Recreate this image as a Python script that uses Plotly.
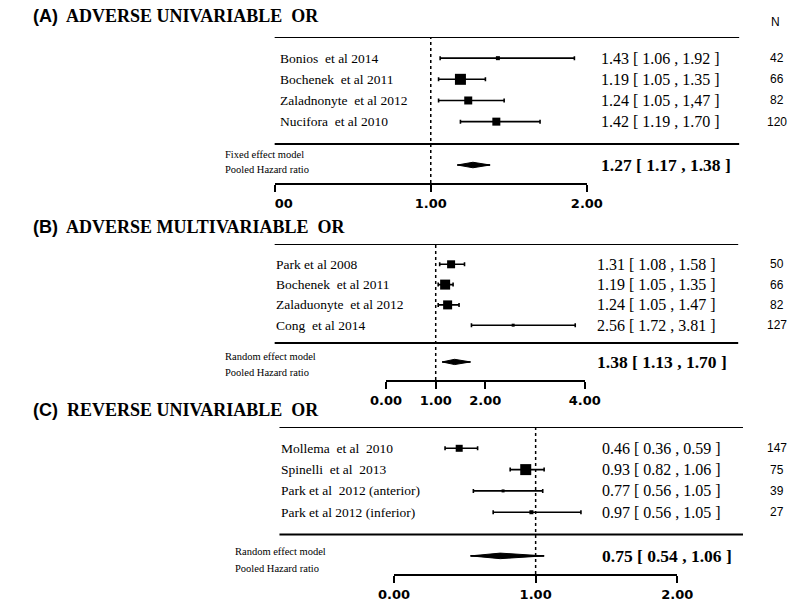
import plotly.graph_objects as go

# ---------------- data ----------------
A_studies = ["Bonios\u00a0 et al 2014", "Bochenek\u00a0 et al 2011", "Zaladnonyte\u00a0 et al 2012", "Nucifora\u00a0 et al 2010"]
A_or = [1.43, 1.19, 1.24, 1.42]
A_lo = [1.06, 1.05, 1.05, 1.19]
A_hi = [1.92, 1.35, 1.47, 1.70]
A_text = ["1.43 [ 1.06 , 1.92 ]", "1.19 [ 1.05 , 1.35 ]", "1.24 [ 1.05 , 1,47 ]", "1.42 [ 1.19 , 1.70 ]"]
A_n = [42, 66, 82, 120]
A_pool = [1.27, 1.17, 1.38]
A_pool_text = "1.27 [ 1.17 , 1.38 ]"
A_ticks = [0, 1, 2]
A_ticktext = ["\u00a0\u00a0\u00a0\u00a000", "1.00", "2.00"]

B_studies = ["Park et al 2008", "Bochenek\u00a0 et al 2011", "Zaladuonyte\u00a0 et al 2012", "Cong\u00a0 et al 2014"]
B_or = [1.31, 1.19, 1.24, 2.56]
B_lo = [1.08, 1.05, 1.05, 1.72]
B_hi = [1.58, 1.35, 1.47, 3.81]
B_text = ["1.31 [ 1.08 , 1.58 ]", "1.19 [ 1.05 , 1.35 ]", "1.24 [ 1.05 , 1.47 ]", "2.56 [ 1.72 , 3.81 ]"]
B_n = [50, 66, 82, 127]
B_pool = [1.38, 1.13, 1.70]
B_pool_text = "1.38 [ 1.13 , 1.70 ]"
B_ticks = [0, 1, 2, 4]
B_ticktext = ["0.00", "1.00", "2.00", "4.00"]

C_studies = ["Mollema\u00a0 et al\u00a0 2010", "Spinelli\u00a0 et al\u00a0 2013", "Park et al\u00a0 2012 (anterior)", "Park et al 2012 (inferior)"]
C_or = [0.46, 0.93, 0.77, 0.97]
C_lo = [0.36, 0.82, 0.56, 0.70]
C_hi = [0.59, 1.06, 1.05, 1.32]
C_text = ["0.46 [ 0.36 , 0.59 ]", "0.93 [ 0.82 , 1.06 ]", "0.77 [ 0.56 , 1.05 ]", "0.97 [ 0.56 , 1.05 ]"]
C_n = [147, 75, 39, 27]
C_pool = [0.75, 0.54, 1.06]
C_pool_text = "0.75 [ 0.54 , 1.06 ]"
C_ticks = [0, 1, 2]
C_ticktext = ["0.00", "1.00", "2.00"]

titles = ["(A)", "(B)", "(C)"]
title_words = ["ADVERSE UNIVARIABLE\u00a0 OR", "ADVERSE MULTIVARIABLE\u00a0 OR", "REVERSE UNIVARIABLE\u00a0 OR"]
model_names = ["Fixed effect model", "Random effect model", "Random effect model"]
pooled_name = "Pooled Hazard ratio"

# ---------------- layout / style ----------------
W, H = 804, 605
def px(x): return x / W
def py(y): return 1 - y / H

SERIF = "Liberation Serif, Times New Roman, serif"
SANS = "Liberation Sans, Arial, sans-serif"
TICKF = "DejaVu Sans, Verdana, sans-serif"

panels = [
    dict(studies=A_studies, orr=A_or, lo=A_lo, hi=A_hi, text=A_text, n=A_n, pool=A_pool, ptext=A_pool_text,
         ticks=A_ticks, ticktext=A_ticktext, xr=[0, 2], xdom=[268, 594], ydom=[37, 183], yr=6.9,
         sizes=[4, 11, 8, 8], sep=5.06, prow=6.05, line_x=[268, 753], lab_x=271, val_x=607,
         title_y=16, model_y=[5.57, 6.27], model_x=214),
    dict(studies=B_studies, orr=B_or, lo=B_lo, hi=B_hi, text=B_text, n=B_n, pool=B_pool, ptext=B_pool_text,
         ticks=B_ticks, ticktext=B_ticktext, xr=[0, 4], xdom=[384.3, 591.7], ydom=[244, 380], yr=6.7,
         sizes=[8, 10, 9, 3], sep=4.88, prow=5.81, line_x=[268, 752], lab_x=267, val_x=602,
         title_y=227, model_y=[5.52, 6.35], model_x=214),
    dict(studies=C_studies, orr=C_or, lo=C_lo, hi=C_hi, text=C_text, n=C_n, pool=C_pool, ptext=C_pool_text,
         ticks=C_ticks, ticktext=C_ticktext, xr=[0, 2], xdom=[392.7, 688.3], ydom=[427, 574], yr=6.9,
         sizes=[7, 11, 3, 4], sep=5.05, prow=6.05, line_x=[273, 757], lab_x=273, val_x=608,
         title_y=410, model_y=[5.85, 6.62], model_x=224),
]

fig = go.Figure()
annotations = []
shapes = []
layout_axes = {}

for i, p in enumerate(panels):
    k = "" if i == 0 else str(i + 1)
    xa, ya = "x" + k, "y" + k
    rows = [1, 2, 3, 4]
    # studies: point estimate + confidence interval
    fig.add_trace(go.Scatter(
        x=p["orr"], y=rows, xaxis=xa, yaxis=ya, mode="markers",
        marker=dict(symbol="square", size=p["sizes"], color="black", opacity=1, line=dict(width=0)),
        error_x=dict(type="data", symmetric=False,
                     array=[h - o for h, o in zip(p["hi"], p["orr"])],
                     arrayminus=[o - l for o, l in zip(p["orr"], p["lo"])],
                     color="black", thickness=1.6, width=2),
        cliponaxis=False, showlegend=False, hoverinfo="skip"))
    # pooled line + diamond
    est, plo, phi = p["pool"]
    r = p["prow"]
    fig.add_trace(go.Scatter(x=[plo, phi], y=[r, r], xaxis=xa, yaxis=ya, mode="lines",
                             line=dict(color="black", width=1.6), showlegend=False, hoverinfo="skip",
                             cliponaxis=False))
    hh = 0.13
    fig.add_trace(go.Scatter(x=[plo, est, phi, est, plo], y=[r, r - hh, r, r + hh, r], xaxis=xa, yaxis=ya,
                             mode="lines", fill="toself", fillcolor="black",
                             line=dict(color="black", width=1), showlegend=False, hoverinfo="skip"))
    # axes
    layout_axes["xaxis" + k] = dict(domain=[px(p["xdom"][0]), px(p["xdom"][1])], range=p["xr"], anchor=ya,
                                    showline=True, linecolor="black", linewidth=2, ticks="outside",
                                    ticklen=7, tickwidth=2, tickcolor="black", tickvals=p["ticks"],
                                    ticktext=p["ticktext"], showgrid=False, zeroline=False,
                                    tickfont=dict(family=TICKF, size=13, color="black", weight="bold"),
                                    fixedrange=True)
    layout_axes["yaxis" + k] = dict(domain=[py(p["ydom"][1]), py(p["ydom"][0])], range=[p["yr"], 0],
                                    anchor=xa, visible=False, fixedrange=True)
    # dotted reference line at 1
    shapes.append(dict(type="line", xref=xa, yref=ya + " domain", x0=1, x1=1, y0=0, y1=1,
                       line=dict(color="black", width=1.5, dash="dot")))
    # top line and separator
    for yy in [0, p["sep"]]:
        shapes.append(dict(type="line", xref="paper", yref=ya, x0=px(p["line_x"][0]), x1=px(p["line_x"][1]),
                           y0=yy, y1=yy, line=dict(color="black", width=2)))
    # texts
    for j in range(4):
        annotations.append(dict(text=p["studies"][j], xref="paper", yref=ya, x=px(p["lab_x"]), y=rows[j],
                                xanchor="left", yanchor="middle", showarrow=False,
                                font=dict(family=SERIF, size=13.5, color="black")))
        annotations.append(dict(text=p["text"][j], xref="paper", yref=ya, x=px(p["val_x"]), y=rows[j],
                                xanchor="left", yanchor="middle", showarrow=False,
                                font=dict(family=SERIF, size=16, color="black")))
        annotations.append(dict(text=str(p["n"][j]), xref="paper", yref=ya, x=px(792), y=rows[j],
                                xanchor="center", yanchor="middle", showarrow=False,
                                font=dict(family=SANS, size=12, color="black")))
    annotations.append(dict(text=p["ptext"], xref="paper", yref=ya, x=px(p["val_x"]), y=r,
                            xanchor="left", yanchor="middle", showarrow=False,
                            font=dict(family=SERIF, size=17.5, color="black", weight="bold")))
    annotations.append(dict(text=model_names[i], xref="paper", yref=ya, x=px(p["model_x"]), y=p["model_y"][0],
                            xanchor="left", yanchor="middle", showarrow=False,
                            font=dict(family=SERIF, size=10.5, color="black")))
    annotations.append(dict(text=pooled_name, xref="paper", yref=ya, x=px(p["model_x"]), y=p["model_y"][1],
                            xanchor="left", yanchor="middle", showarrow=False,
                            font=dict(family=SERIF, size=10.5, color="black")))
    annotations.append(dict(text='<span style="font-family:Liberation Sans, Arial">' + titles[i] + "</span>\u00a0 "
                            + title_words[i], xref="paper", yref="paper", x=px(14), y=py(p["title_y"]),
                            xanchor="left", yanchor="middle", showarrow=False,
                            font=dict(family=SERIF, size=18, color="black", weight="bold")))

annotations.append(dict(text="N", xref="paper", yref="paper", x=px(791), y=py(22), xanchor="center",
                        yanchor="middle", showarrow=False, font=dict(family=SANS, size=12, color="black")))

fig.update_layout(width=W, height=H, autosize=False, margin=dict(l=0, r=0, t=0, b=0),
                  paper_bgcolor="white", plot_bgcolor="rgba(0,0,0,0)",
                  annotations=annotations, shapes=shapes, showlegend=False, **layout_axes)

fig.write_html("out.html", config={"displayModeBar": False},
               post_script="document.body.style.margin='0';document.body.style.overflow='hidden';")
